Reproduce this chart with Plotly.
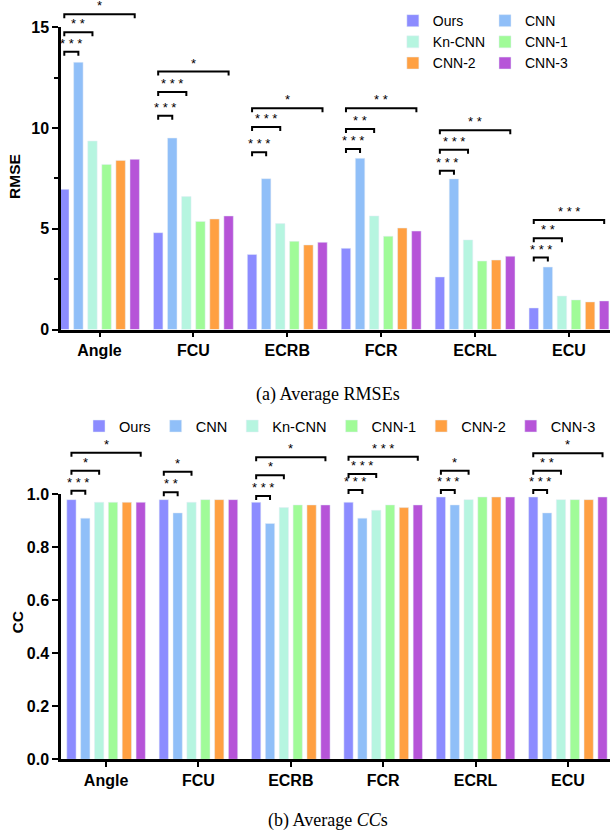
import plotly.graph_objects as go

categories = ["Angle", "FCU", "ECRB", "FCR", "ECRL", "ECU"]
models = ["Ours", "CNN", "Kn-CNN", "CNN-1", "CNN-2", "CNN-3"]
colors = ["#8C8CFF", "#90BFF8", "#B6F5E0", "#A0FB98", "#FFA042", "#B654D8"]

rmse_ours = [6.96, 4.81, 3.73, 4.03, 2.61, 1.07]
rmse_cnn = [13.27, 9.51, 7.49, 8.50, 7.48, 3.10]
rmse_kn_cnn = [9.36, 6.60, 5.26, 5.64, 4.45, 1.66]
rmse_cnn1 = [8.20, 5.37, 4.38, 4.63, 3.40, 1.47]
rmse_cnn2 = [8.40, 5.49, 4.20, 5.04, 3.45, 1.37]
rmse_cnn3 = [8.45, 5.64, 4.33, 4.89, 3.64, 1.42]

cc_ours = [0.98, 0.98, 0.97, 0.97, 0.99, 0.99]
cc_cnn = [0.91, 0.93, 0.89, 0.91, 0.96, 0.93]
cc_kn_cnn = [0.97, 0.97, 0.95, 0.94, 0.98, 0.98]
cc_cnn1 = [0.97, 0.98, 0.96, 0.96, 0.99, 0.98]
cc_cnn2 = [0.97, 0.98, 0.96, 0.95, 0.99, 0.98]
cc_cnn3 = [0.97, 0.98, 0.96, 0.96, 0.99, 0.99]

# significance brackets (Ours vs model index), per category
rmse_sig_targets = [[1, 2, 5]] * 6
rmse_sig_heights = [[13.8, 14.76, 15.66], [10.62, 11.8, 12.81], [8.8, 10.06, 10.99],
                    [8.97, 9.96, 10.99], [7.89, 8.93, 9.9], [3.57, 4.53, 5.44]]
rmse_sig_labels = [["***", "**", "*"], ["***", "***", "*"], ["***", "***", "*"],
                   ["***", "**", "**"], ["***", "***", "**"], ["***", "**", "***"]]

cc_sig_targets = [[1, 2, 5], [1, 2], [1, 2, 5], [1, 2, 5], [1, 2], [1, 2, 5]]
cc_sig_heights = [[1.0136, 1.089, 1.157], [1.0075, 1.085], [0.9936, 1.0717, 1.1396],
                  [1.016, 1.077, 1.142], [1.016, 1.089], [1.016, 1.089, 1.155]]
cc_sig_labels = [["***", "*", "*"], ["**", "*"], ["***", "*", "*"],
                 ["***", "***", "***"], ["***", "*"], ["***", "**", "*"]]

rmse_series = [rmse_ours, rmse_cnn, rmse_kn_cnn, rmse_cnn1, rmse_cnn2, rmse_cnn3]
cc_series = [cc_ours, cc_cnn, cc_kn_cnn, cc_cnn1, cc_cnn2, cc_cnn3]

RMSE_MAX = 15
CC_MAX = 1.0

BARGAP = 0.1
BARGROUPGAP = 0.33
n_models = len(models)
slot = (1 - BARGAP) / n_models
xpos = list(range(len(categories)))


def bar_center(i, j):
    return i - (1 - BARGAP) / 2 + slot * (j + 0.5)


FONT = "Liberation Sans, Arial, Helvetica, sans-serif"
SERIF = "Liberation Serif, Times New Roman, serif"

fig = go.Figure()

top_legend = ["legend", "legend2", "legend", "legend2", "legend", "legend2"]
for j, name in enumerate(models):
    fig.add_trace(go.Bar(x=xpos, y=rmse_series[j], name=name, marker_color=colors[j],
                         xaxis="x", yaxis="y", legend=top_legend[j]))
for j, name in enumerate(models):
    fig.add_trace(go.Bar(x=xpos, y=cc_series[j], name=name, marker_color=colors[j],
                         xaxis="x2", yaxis="y2", legend="legend3"))

annotations = []
shapes = []


def add_brackets(targets, heights, labels, ymax, tick_px, plot_px, xa, yref):
    tick = tick_px / plot_px
    for i in range(len(categories)):
        for t, h, lab in zip(targets[i], heights[i], labels[i]):
            x0 = bar_center(i, 0)
            x1 = bar_center(i, t)
            yd = h / ymax
            shapes.append(dict(type="path", xref=xa, yref=yref,
                               path=f"M{x0},{yd - tick} L{x0},{yd} L{x1},{yd} L{x1},{yd - tick}",
                               line=dict(color="black", width=2)))
            annotations.append(dict(x=(x0 + x1) / 2, y=yd, xref=xa, yref=yref, text=" ".join(lab),
                                    showarrow=False, xanchor="center", yanchor="bottom", yshift=-1,
                                    font=dict(family=FONT, size=13, color="black")))


H = 838
top_dom = [0.6068, 0.9672]
bot_dom = [0.0939, 0.4101]
add_brackets(rmse_sig_targets, rmse_sig_heights, rmse_sig_labels, RMSE_MAX, 4,
             (top_dom[1] - top_dom[0]) * H, "x", "y domain")
add_brackets(cc_sig_targets, cc_sig_heights, cc_sig_labels, CC_MAX, 4,
             (bot_dom[1] - bot_dom[0]) * H, "x2", "y2 domain")

# axis titles and captions
annotations += [
    dict(text="<b>RMSE</b>", x=-0.0838, y=0.79, xref="paper", yref="paper", textangle=-90,
         xanchor="center", yanchor="middle",
         showarrow=False, font=dict(family=FONT, size=15.5, color="black")),
    dict(text="<b>CC</b>", x=-0.08, y=0.2572, xref="paper", yref="paper", textangle=-90,
         xanchor="center", yanchor="middle",
         showarrow=False, font=dict(family=FONT, size=15.5, color="black")),
    dict(text="(a) Average RMSEs", x=0.486, y=0.5298, xref="paper", yref="paper",
         xanchor="center", yanchor="middle",
         showarrow=False, font=dict(family=SERIF, size=18, color="black")),
    dict(text="(b) Average <i>CC</i>s", x=0.486, y=0.0203, xref="paper", yref="paper",
         xanchor="center", yanchor="middle",
         showarrow=False, font=dict(family=SERIF, size=18, color="black")),
]

axis_common = dict(showline=True, linewidth=2.5, linecolor="black", ticks="outside",
                   tickwidth=2, tickcolor="black", showgrid=False, zeroline=False,
                   automargin=False,
                   tickfont=dict(family=FONT, size=16, color="black", weight="bold"))

fig.update_layout(
    width=610, height=H,
    margin=dict(l=61, r=0, t=0, b=0, autoexpand=False),
    paper_bgcolor="white", plot_bgcolor="white",
    barmode="group", bargap=BARGAP, bargroupgap=BARGROUPGAP,
    xaxis=dict(domain=[0, 1], anchor="y", range=[-0.41, 5.437], tickvals=xpos,
               ticktext=categories, ticklen=5, **axis_common),
    yaxis=dict(domain=top_dom, anchor="x", range=[0, RMSE_MAX], dtick=5, ticklen=6,
               minor=dict(dtick=2.5, ticks="outside", ticklen=4, tickwidth=2, tickcolor="black"),
               **axis_common),
    xaxis2=dict(domain=[0, 1], anchor="y2", range=[-0.488, 5.456], tickvals=xpos,
                ticktext=categories, ticklen=5, **axis_common),
    yaxis2=dict(domain=bot_dom, anchor="x2", range=[0, CC_MAX], dtick=0.2,
                tickformat=".1f", ticklen=6, **axis_common),
    legend=dict(x=0.6045, y=0.994, xanchor="left", yanchor="top", bgcolor="rgba(0,0,0,0)",
                font=dict(family=FONT, size=14, color="black"), tracegroupgap=0),
    legend2=dict(x=0.7723, y=0.994, xanchor="left", yanchor="top", bgcolor="rgba(0,0,0,0)",
                 font=dict(family=FONT, size=14, color="black"), tracegroupgap=0),
    legend3=dict(orientation="h", x=0.0328, y=0.5107, xanchor="left", yanchor="top",
                 bgcolor="rgba(0,0,0,0)", font=dict(family=FONT, size=14.6, color="black")),
    annotations=annotations,
    shapes=shapes,
    showlegend=True,
)

fig.write_html("out.html", config={"displayModeBar": False},
               post_script="document.body.style.margin='0';")
